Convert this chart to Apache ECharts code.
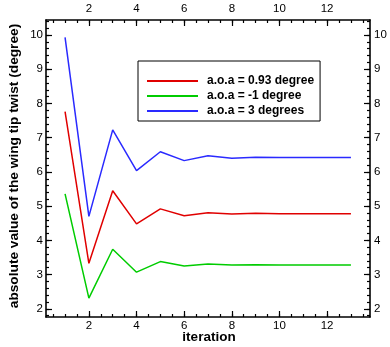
<!DOCTYPE html>
<html>
<head>
<meta charset="utf-8">
<script src="https://cdn.jsdelivr.net/npm/echarts@6/dist/echarts.min.js"></script>
<style>
  html, body { margin: 0; padding: 0; background: #fff; }
  #chart { width: 390px; height: 347px; }
</style>
</head>
<body>
<div id="chart"></div>
<script>
// Convergence of the wing tip twist over the solver iterations
const iterations = [1, 2, 3, 4, 5, 6, 7, 8, 9, 10, 11, 12, 13];
const twistAoa093 = [7.76, 3.33, 5.45, 4.48, 4.92, 4.72, 4.81, 4.77, 4.79, 4.78, 4.78, 4.78, 4.78];
const twistAoaM1  = [5.36, 2.31, 3.74, 3.07, 3.38, 3.25, 3.31, 3.28, 3.29, 3.28, 3.28, 3.28, 3.28];
const twistAoa3   = [9.93, 4.70, 7.23, 6.04, 6.59, 6.33, 6.47, 6.40, 6.43, 6.42, 6.42, 6.42, 6.42];
const seriesNames = ['a.o.a = 0.93 degree', 'a.o.a = -1 degree', 'a.o.a = 3 degrees'];

// Axis ticks
const xMajorTicks = [2, 4, 6, 8, 10, 12];
const yMajorTicks = [2, 3, 4, 5, 6, 7, 8, 9, 10];
const xMinorTicks = [];
for (let v = 0.5; v < 13.8; v += 0.5) xMinorTicks.push(+v.toFixed(1));
const yMinorTicks = [];
for (let v = 1.8; v < 10.44; v += 0.2) yMinorTicks.push(+v.toFixed(1));

const X_MIN = 0.2, X_MAX = 13.8;
const Y_MIN = 1.76, Y_MAX = 10.44;

const FONT = 'Liberation Sans, Arial, sans-serif';
const labelStyle = { color: '#000', fontFamily: FONT, fontSize: 11.5 };

function xAxisDef(position, major) {
  return {
    type: 'value', position: position, min: X_MIN, max: X_MAX,
    axisLine: { show: major, lineStyle: { color: '#000', width: 1.6 } },
    splitLine: { show: false },
    axisTick: {
      show: true, inside: true, length: major ? 6 : 3,
      customValues: major ? xMajorTicks : xMinorTicks,
      lineStyle: { color: '#000', width: 1.2 }
    },
    axisLabel: major
      ? Object.assign({ show: true, customValues: xMajorTicks, margin: position === 'top' ? 5 : 3 }, labelStyle)
      : { show: false }
  };
}

function yAxisDef(position, major) {
  return {
    type: 'value', position: position, min: Y_MIN, max: Y_MAX,
    axisLine: { show: major, lineStyle: { color: '#000', width: 1.6 } },
    splitLine: { show: false },
    axisTick: {
      show: true, inside: true, length: major ? 6 : 3,
      customValues: major ? yMajorTicks : yMinorTicks,
      lineStyle: { color: '#000', width: 1.2 }
    },
    axisLabel: major
      ? Object.assign({ show: true, customValues: yMajorTicks, margin: position === 'right' ? 4 : 3 }, labelStyle)
      : { show: false }
  };
}

const colors = ['#e00000', '#00cc00', '#2a2aff'];
const seriesValues = [twistAoa093, twistAoaM1, twistAoa3];

const chart = echarts.init(document.getElementById('chart'), null, { renderer: 'canvas' });
chart.setOption({
  animation: false,
  backgroundColor: '#fff',
  grid: { left: 46, top: 20, width: 324, height: 297, containLabel: false },
  xAxis: [
    xAxisDef('bottom', true), xAxisDef('bottom', false),
    xAxisDef('top', true), xAxisDef('top', false)
  ],
  yAxis: [
    yAxisDef('left', true), yAxisDef('left', false),
    yAxisDef('right', true), yAxisDef('right', false)
  ],
  legend: {
    orient: 'vertical', left: 138, top: 61,
    padding: [13, 6, 3, 9], itemGap: 1,
    itemWidth: 51, itemHeight: 1.8,
    icon: 'rect',
    borderColor: '#000', borderWidth: 1,
    backgroundColor: '#fff',
    selectedMode: false,
    data: seriesNames,
    textStyle: { color: '#000', fontFamily: FONT, fontWeight: 'bold', fontSize: 12, lineHeight: 14, padding: [0, 0, 0, 4] }
  },
  graphic: [
    {
      type: 'text', x: 14, y: 166, rotation: Math.PI / 2,
      style: {
        text: 'absolute value of the wing tip twist (degree)',
        fill: '#000', font: 'bold 13.7px ' + FONT,
        align: 'center', verticalAlign: 'middle'
      }
    },
    {
      type: 'text', x: 209, y: 337,
      style: {
        text: 'iteration', fill: '#000', font: 'bold 13.5px ' + FONT,
        align: 'center', verticalAlign: 'middle'
      }
    }
  ],
  series: seriesValues.map((vals, i) => ({
    name: seriesNames[i],
    type: 'line',
    xAxisIndex: 0, yAxisIndex: 0,
    symbol: 'none',
    color: colors[i],
    itemStyle: { color: colors[i] },
    lineStyle: { color: colors[i], width: 1.5 },
    data: iterations.map((x, k) => [x, vals[k]])
  }))
});
</script>
</body>
</html>
